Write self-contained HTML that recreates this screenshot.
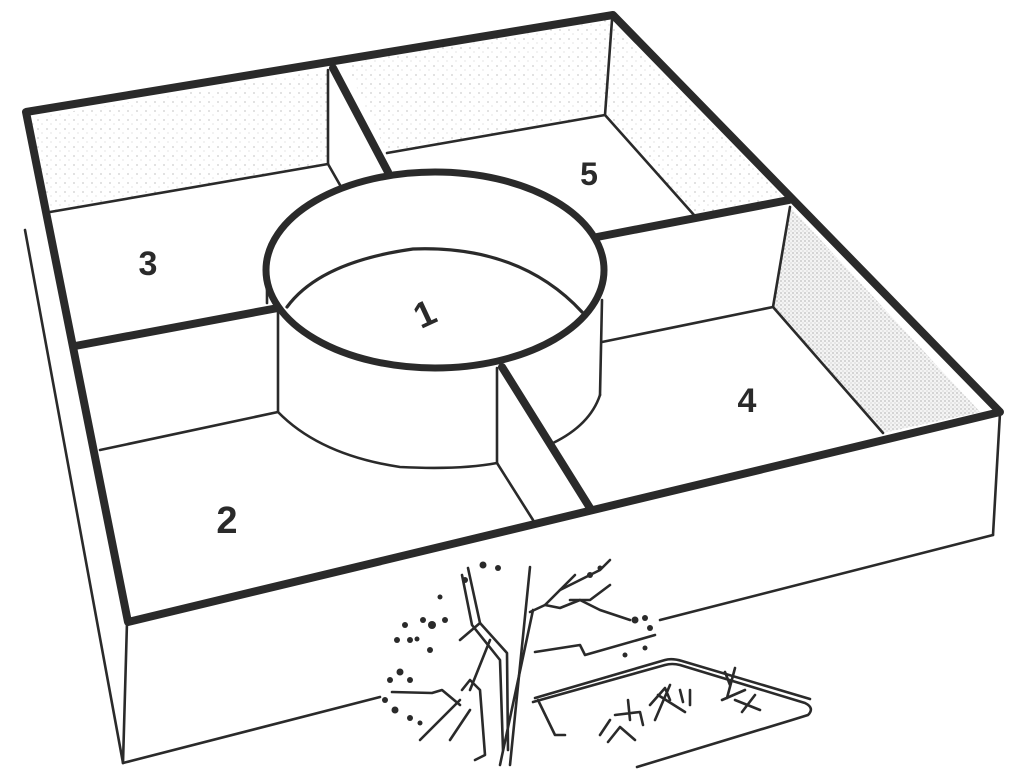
<!DOCTYPE html>
<html><head><meta charset="utf-8"><style>
html,body{margin:0;padding:0;background:#fff;}
svg{display:block;}
text{font-family:"Liberation Sans",sans-serif;font-weight:bold;fill:#2a2a2a;}
</style></head><body>
<svg width="1024" height="780" viewBox="0 0 1024 780" xmlns="http://www.w3.org/2000/svg">
<defs>
<pattern id="dl" width="9" height="9" patternUnits="userSpaceOnUse">
<rect width="9" height="9" fill="#fff"/><circle cx="2" cy="3" r="0.6" fill="#999"/><circle cx="6" cy="7" r="0.5" fill="#bbb"/>
</pattern>
<pattern id="dd" width="4" height="4" patternUnits="userSpaceOnUse">
<rect width="4" height="4" fill="#f4f4f4"/><circle cx="1" cy="1" r="0.6" fill="#888"/><circle cx="3" cy="3" r="0.5" fill="#aaa"/>
</pattern>
</defs>
<g stroke="#2a2a2a" fill="none" stroke-linecap="round" stroke-linejoin="round">
<polygon points="30,118 328,70 328,163 50,212" fill="url(#dl)" stroke="none"/>
<polygon points="345,62 612,18 605,115 387,153" fill="url(#dl)" stroke="none"/>
<polygon points="612,18 785,196 694,215 605,115" fill="url(#dl)" stroke="none"/>
<polygon points="790,207 773,307 883,433 980,412" fill="url(#dd)" stroke="none"/>

<g stroke-width="2.6">
<line x1="25" y1="230" x2="123" y2="763"/>
<line x1="127" y1="622" x2="123" y2="763"/>
<line x1="123" y1="763" x2="380" y2="697"/>
<line x1="660" y1="620" x2="993" y2="535"/>
<line x1="1000" y1="413" x2="993" y2="535"/>
</g>

<g stroke-width="2.6">
<line x1="50" y1="212" x2="328" y2="164"/>
<line x1="328" y1="70" x2="328" y2="164"/>
<line x1="328" y1="164" x2="340" y2="185"/>
<line x1="387" y1="153" x2="605" y2="115"/>
<line x1="612" y1="20" x2="605" y2="115"/>
<line x1="605" y1="115" x2="694" y2="215"/>
<line x1="790" y1="207" x2="773" y2="307"/>
<line x1="773" y1="307" x2="602" y2="342"/>
<line x1="773" y1="307" x2="883" y2="433"/>
<line x1="100" y1="450" x2="278" y2="412"/>
<line x1="267" y1="287" x2="267" y2="303"/>
<line x1="278" y1="308" x2="278" y2="412"/>
<line x1="497" y1="368" x2="497" y2="463"/>
<line x1="602" y1="300" x2="600" y2="395"/>
<path d="M278,412 Q320,455 400,467 Q460,470 497,463"/>
<path d="M600,395 Q590,425 553,443"/>
<line x1="497" y1="463" x2="533" y2="520"/>
<path d="M287,307 Q320,262 413,249 Q520,245 582,312" stroke-width="3.2"/>
</g>

<g stroke-width="8">
<polygon points="26,112 613,15 1000,412 128,622"/>
<line x1="333" y1="68" x2="388" y2="172"/>
<line x1="75" y1="346" x2="278" y2="308"/>
<line x1="597" y1="237" x2="789" y2="200"/>
<line x1="502" y1="367" x2="590" y2="508"/>
<ellipse cx="435" cy="270" rx="169" ry="98" stroke-width="7" fill="none"/>
</g>

<g stroke-width="2.6">
<line x1="530" y1="567" x2="510" y2="765"/>
<line x1="533" y1="610" x2="500" y2="765"/>
<path d="M468,568 L480,623 L507,653 L508,750"/>
<path d="M462,575 L472,625 L500,660 L503,750"/>
<path d="M480,623 L460,640 M490,640 L470,690"/>
<path d="M530,612 L545,605 L560,590 L575,575 M545,605 L560,608 L580,600 L600,610 L630,620"/>
<path d="M560,590 L580,580 L600,570 L610,560 M570,600 L590,600 L610,585"/>
<path d="M535,652 L580,645 L585,655 L655,635"/>
<path d="M462,690 L470,680 L480,690 L485,755 L475,760"/>
<path d="M392,692 L432,693 L442,690 L460,705"/>
<path d="M450,740 L470,710 M420,740 L460,700"/>
<path d="M538,700 L555,735 L565,735"/>
</g>
<g fill="#2a2a2a" stroke="none">
<circle cx="465" cy="580" r="3"/><circle cx="483" cy="565" r="3.5"/><circle cx="498" cy="568" r="3"/><circle cx="440" cy="597" r="2.5"/>
<circle cx="423" cy="620" r="3"/><circle cx="432" cy="625" r="4"/><circle cx="445" cy="620" r="3"/><circle cx="417" cy="639" r="2.5"/>
<circle cx="410" cy="640" r="3"/><circle cx="397" cy="640" r="3"/><circle cx="430" cy="650" r="3"/><circle cx="400" cy="672" r="3.5"/>
<circle cx="390" cy="680" r="3"/><circle cx="410" cy="680" r="3"/><circle cx="395" cy="710" r="3.5"/><circle cx="410" cy="718" r="3"/>
<circle cx="420" cy="723" r="2.5"/><circle cx="590" cy="575" r="3"/><circle cx="600" cy="568" r="2.5"/><circle cx="635" cy="620" r="3.5"/>
<circle cx="645" cy="618" r="3"/><circle cx="650" cy="628" r="3"/><circle cx="625" cy="655" r="2.5"/><circle cx="645" cy="648" r="2.5"/>
<circle cx="405" cy="625" r="3"/><circle cx="385" cy="700" r="3"/>
</g>
<g stroke-width="2.6">
<path d="M533,702 L665,665 Q672,663 680,665 L805,703 Q815,708 808,715 L792,720 L637,767"/>
<path d="M535,698 L665,660 Q672,658 682,661 L810,699"/>
<path d="M628,700 L630,720 M615,715 L640,712 L643,725 M600,735 L610,720 M608,742 L620,727 L635,740"/>
<path d="M650,705 L665,688 L670,700 M655,720 L670,685 M658,695 L685,712 M680,690 L683,702 M690,690 L690,705"/>
<path d="M730,685 L725,672 M735,668 L727,698 M722,700 L745,690 M735,700 L760,710 M742,712 L755,695"/>
</g>
</g>

<text x="148" y="275" font-size="34" text-anchor="middle">3</text>
<text x="589" y="185" font-size="32" text-anchor="middle">5</text>
<text x="0" y="0" font-size="36" text-anchor="middle" transform="translate(430,325) rotate(-25)">1</text>
<text x="747" y="412" font-size="34" text-anchor="middle">4</text>
<text x="227" y="533" font-size="38" text-anchor="middle">2</text>
</svg>
</body></html>
